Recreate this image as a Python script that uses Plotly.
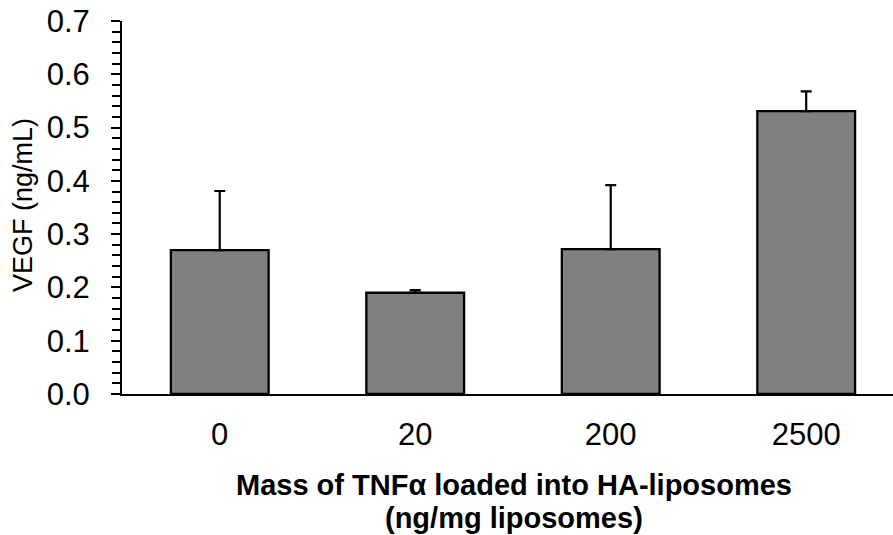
import plotly.graph_objects as go

categories = ["0", "20", "200", "2500"]
vegf_mean = [0.270, 0.190, 0.272, 0.531]
vegf_err = [0.111, 0.005, 0.120, 0.037]
y_ticks = [0.0, 0.1, 0.2, 0.3, 0.4, 0.5, 0.6, 0.7]
y_ticklabels = ["0.0", "0.1", "0.2", "0.3", "0.4", "0.5", "0.6", "0.7"]
x_title_lines = ["Mass of TNFα loaded into HA-liposomes", "(ng/mg liposomes)"]
y_title = "VEGF (ng/mL)"

FONT = "Liberation Sans, Arial, sans-serif"

fig = go.Figure()
fig.add_trace(go.Bar(
    x=list(range(len(categories))),
    y=vegf_mean,
    width=0.5,
    marker=dict(color="#808080", line=dict(color="black", width=2.3)),
    error_y=dict(type="data", array=vegf_err, arrayminus=[0] * len(vegf_err),
                 symmetric=False, color="black", thickness=2.2, width=5.5),
    showlegend=False,
))

W, H = 893, 535
L, R, T, B = 122, 0, 21, 141
PW, PH = W - L - R, H - T - B

fig.update_layout(
    width=W, height=H,
    margin=dict(l=L, r=R, t=T, b=B, pad=0, autoexpand=False),
    paper_bgcolor="white", plot_bgcolor="white",
    font=dict(family=FONT, color="black", size=30),
)
fig.update_xaxes(
    automargin=False,
    range=[-0.5, 3.444],
    tickmode="array",
    tickvals=list(range(len(categories))),
    ticktext=categories,
    showline=True, linecolor="black", linewidth=2,
    ticks="", showgrid=False, zeroline=False,
    tickfont=dict(size=31, family=FONT),
    ticklabelstandoff=12,
)
fig.update_yaxes(
    automargin=False,
    range=[0, 0.7],
    tickmode="array",
    tickvals=y_ticks,
    ticktext=y_ticklabels,
    showline=True, linecolor="black", linewidth=2,
    ticks="outside", ticklen=9, tickwidth=2, tickcolor="black",
    minor=dict(dtick=0.02, ticks="outside", ticklen=8, tickwidth=2, tickcolor="black", showgrid=False),
    showgrid=False, zeroline=False,
    tickfont=dict(size=31, family=FONT),
    ticklabelstandoff=15,
)

# x-axis title (two bold lines), centred on the category band
for txt, ypx in zip(x_title_lines, [485, 518]):
    fig.add_annotation(
        text="<b>" + txt + "</b>",
        xref="paper", yref="paper",
        x=(514 - L) / PW, y=(H - B - ypx) / PH,
        xanchor="center", yanchor="middle", showarrow=False,
        font=dict(size=29, family=FONT, color="black"),
    )
# y-axis title
fig.add_annotation(
    text=y_title,
    xref="paper", yref="paper",
    x=-(L - 23) / PW, y=(H - B - 205) / PH,
    xanchor="center", yanchor="middle", showarrow=False, textangle=-90,
    font=dict(size=27, family=FONT, color="black"),
)

fig.write_html("out.html", config={"displayModeBar": False},
               post_script="document.body.style.margin='0';document.body.style.overflow='hidden';")
